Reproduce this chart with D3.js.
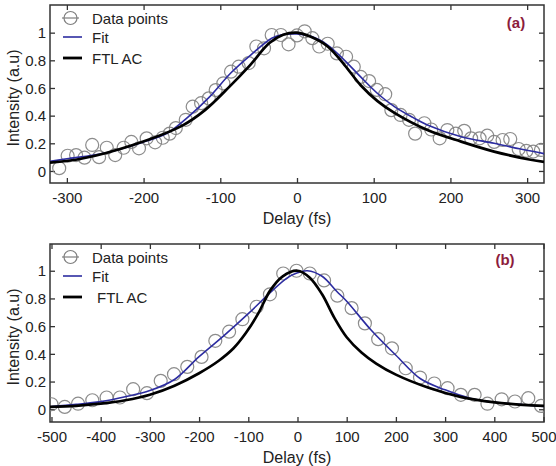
<!DOCTYPE html>
<html><head><meta charset="utf-8">
<script src="https://cdn.jsdelivr.net/npm/d3@7"></script>
<style>body{margin:0;background:#fff}svg{display:block;font-family:"Liberation Sans",Arial,sans-serif}</style>
</head><body><svg id="c" width="556" height="466"></svg>
<script>
// ---------- data ----------
const xTicksA = [-300,-200,-100,0,100,200,300];
const xTicksB = [-500,-400,-300,-200,-100,0,100,200,300,400,500];
const yTicks = [0,0.2,0.4,0.6,0.8,1];
const legendLabels = ["Data points","Fit","FTL AC"];

// Panel (a)
const dataA_x = [-310,-299,-288,-277,-267,-258,-248,-237,-226,-216,-206,-196,-185,-175,-166,-158,-145,-136,-125,-115,-106,-96,-86,-76,-63,-53,-43,-33,-21,-11,0,10,20,29,40,52,64,74,83,94,104,115,123,135,146,154,166,175,186,196,207,218,227,238,248,257,268,278,289,299,308,318];
const dataA_y = [0.02,0.11,0.115,0.096,0.188,0.10,0.168,0.115,0.168,0.21,0.164,0.236,0.207,0.24,0.27,0.31,0.37,0.465,0.49,0.525,0.585,0.634,0.718,0.754,0.78,0.9,0.887,0.983,0.983,0.916,0.98,1.01,0.96,0.9,0.92,0.85,0.826,0.754,0.68,0.65,0.586,0.555,0.44,0.405,0.37,0.27,0.345,0.30,0.236,0.296,0.27,0.29,0.236,0.236,0.255,0.21,0.224,0.231,0.159,0.145,0.14,0.152];
const fitA_x = [-322,-300,-250,-200,-170,-140,-115,-86,-60,-33,-20,0,20,40,62,83,105,127,150,170,214,257,290,322];
const fitA_y = [0.07,0.088,0.13,0.21,0.27,0.40,0.53,0.71,0.84,0.96,0.985,0.99,0.97,0.91,0.8,0.68,0.56,0.465,0.39,0.333,0.248,0.2,0.16,0.125];
const ftlA_x = [-322,-280,-214,-149,-120,-88,-62,-36,-18,0,18,40,62,83,105,127,170,214,257,301,322];
const ftlA_y = [0.06,0.09,0.188,0.33,0.44,0.61,0.76,0.925,0.985,1.0,0.97,0.9,0.766,0.62,0.505,0.42,0.296,0.212,0.14,0.085,0.065];

// Panel (b)
const dataB_x = [-500,-473,-446,-417,-388,-361,-334,-306,-278,-251,-224,-195,-167,-139,-112,-83,-56,-29,-2,25,54,81,110,137,164,192,220,249,278,305,332,360,386,415,442,469,495];
const dataB_y = [0.036,0.017,0.04,0.065,0.085,0.085,0.145,0.116,0.205,0.253,0.306,0.378,0.494,0.56,0.65,0.74,0.83,0.98,1.0,0.98,0.93,0.82,0.73,0.62,0.506,0.44,0.296,0.229,0.186,0.152,0.104,0.104,0.04,0.072,0.056,0.08,0.024];
const fitB_x = [-500,-450,-400,-350,-300,-250,-200,-150,-100,-50,-20,0,20,50,80,100,150,200,250,300,350,400,450,500];
const fitB_y = [0.02,0.035,0.055,0.09,0.135,0.215,0.38,0.53,0.69,0.86,0.95,0.985,1.0,0.96,0.85,0.78,0.57,0.39,0.22,0.14,0.08,0.05,0.035,0.02];
const ftlB_x = [-503,-450,-400,-350,-300,-250,-200,-160,-130,-105,-80,-55,-30,0,25,50,75,100,130,160,200,265,333,401,450,501];
const ftlB_y = [0.017,0.025,0.04,0.065,0.105,0.17,0.26,0.35,0.44,0.55,0.69,0.86,0.96,1.0,0.95,0.83,0.66,0.52,0.41,0.33,0.25,0.157,0.088,0.05,0.034,0.024];

// ---------- drawing ----------
const svg = d3.select("#c");
const FRAME = "#333";
const BLUE = "#2c2ca0";
const GRAY = "#7f7f7f";
const LABEL = "#8c1c3c";

function panel(cfg){
  const g = svg.append("g");
  const x = d3.scaleLinear().domain(cfg.xd).range([50,544]);
  const y = d3.scaleLinear().domain(cfg.yd).range([cfg.bottom, cfg.top]);
  const clipId = "clip"+cfg.tag;
  g.append("clipPath").attr("id",clipId).append("rect")
    .attr("x",50).attr("y",cfg.top).attr("width",494).attr("height",cfg.bottom-cfg.top);

  const fmt = d => String(d);
  const axB = g.append("g").attr("transform",`translate(0,${cfg.bottom})`)
    .call(d3.axisBottom(x).tickValues(cfg.xt).tickSize(-5).tickPadding(9).tickFormat(fmt));
  const axT = g.append("g").attr("transform",`translate(0,${cfg.top})`)
    .call(d3.axisTop(x).tickValues(cfg.xt).tickSize(-5).tickFormat(""));
  const axL = g.append("g").attr("transform",`translate(50,0)`)
    .call(d3.axisLeft(y).tickValues(yTicks).tickSize(-5).tickPadding(4).tickFormat(fmt));
  const axR = g.append("g").attr("transform",`translate(544,0)`)
    .call(d3.axisRight(y).tickValues(yTicks).tickSize(-5).tickFormat(""));
  [axB,axT,axL,axR].forEach(a=>{
    a.select(".domain").remove();
    a.selectAll("line").attr("stroke",FRAME).attr("stroke-width",1.3);
    a.selectAll("text").attr("font-size",15).attr("fill","#222")
      .attr("font-family",'"Liberation Sans",Arial,sans-serif');
  });
  axL.selectAll("text").attr("dy","0.35em");
  g.append("rect").attr("x",50).attr("y",cfg.top).attr("width",494).attr("height",cfg.bottom-cfg.top)
    .attr("fill","none").attr("stroke",FRAME).attr("stroke-width",1.5);

  const plot = g.append("g").attr("clip-path",`url(#${clipId})`);
  const line = d3.line().x(d=>x(d[0])).y(d=>y(d[1])).curve(d3.curveCatmullRom.alpha(0.5));
  const data = cfg.dx.map((v,i)=>[v,cfg.dy[i]]);
  plot.selectAll("circle.pt").data(data).join("circle").attr("class","pt")
    .attr("cx",d=>x(d[0])).attr("cy",d=>y(d[1])).attr("r",6.5)
    .attr("fill","none").attr("stroke",GRAY).attr("stroke-width",1.2).attr("stroke-opacity",0.9);
  plot.append("path").datum(cfg.fx.map((v,i)=>[v,cfg.fy[i]])).attr("d",line)
    .attr("fill","none").attr("stroke",BLUE).attr("stroke-width",1.6);
  plot.append("path").datum(cfg.tx.map((v,i)=>[v,cfg.ty[i]])).attr("d",line)
    .attr("fill","none").attr("stroke","#000").attr("stroke-width",2.7);

  g.append("text").attr("x",297).attr("y",cfg.bottom+41).attr("text-anchor","middle")
    .attr("font-size",16).attr("fill","#222").text("Delay (fs)");
  g.append("text").attr("transform",`translate(19,${(cfg.top+cfg.bottom)/2+4}) rotate(-90)`)
    .attr("text-anchor","middle").attr("font-size",16).attr("fill","#222").text("Intensity (a.u)");

  g.append("text").attr("x",cfg.lx).attr("y",cfg.top+cfg.ly).attr("text-anchor","middle")
    .attr("font-size",15).attr("font-weight","bold").attr("fill",LABEL).text(cfg.label);

  const lg = g.append("g");
  const ly = [cfg.top+13, cfg.top+32, cfg.top+53];
  lg.append("line").attr("x1",62).attr("x2",79).attr("y1",ly[0]).attr("y2",ly[0]).attr("stroke",GRAY).attr("stroke-width",1.2);
  lg.append("circle").attr("cx",70.5).attr("cy",ly[0]).attr("r",6.5).attr("fill","none").attr("stroke",GRAY).attr("stroke-width",1.2);
  lg.append("line").attr("x1",63).attr("x2",82).attr("y1",ly[1]).attr("y2",ly[1]).attr("stroke",BLUE).attr("stroke-width",1.6);
  lg.append("line").attr("x1",63).attr("x2",82).attr("y1",ly[2]).attr("y2",ly[2]).attr("stroke","#000").attr("stroke-width",2.8);
  legendLabels.forEach((t,i)=>{
    lg.append("text").attr("x", i===2 ? cfg.ftlX : 92).attr("y",ly[i]+5.5)
      .attr("font-size",15).attr("fill","#222").text(t);
  });
}

panel({tag:"a", xd:[-322,322], yd:[-0.087,1.2], top:5, bottom:183, xt:xTicksA,
  dx:dataA_x, dy:dataA_y, fx:fitA_x, fy:fitA_y, tx:ftlA_x, ty:ftlA_y,
  label:"(a)", lx:516, ly:23, ftlX:92});
panel({tag:"b", xd:[-503,501], yd:[-0.092,1.193], top:244, bottom:422, xt:xTicksB,
  dx:dataB_x, dy:dataB_y, fx:fitB_x, fy:fitB_y, tx:ftlB_x, ty:ftlB_y,
  label:"(b)", lx:505, ly:21, ftlX:97});
</script></body></html>
